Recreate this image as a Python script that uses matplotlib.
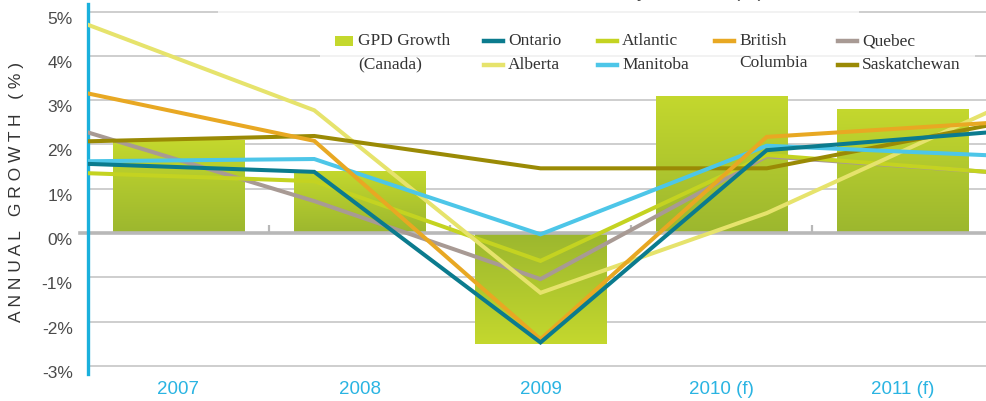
import numpy as np
import matplotlib
matplotlib.use('Agg')
import matplotlib.pyplot as plt
from matplotlib.colors import to_rgb
from matplotlib.lines import Line2D
from matplotlib.patches import Rectangle
import matplotlib.transforms as mtransforms

# data
years = ['2007', '2008', '2009', '2010 (f)', '2011 (f)']
gdp_canada = [2.1, 1.4, -2.5, 3.1, 2.8]
ontario = [1.56, 1.38, -2.47, 1.87, 2.28]
alberta = [4.7, 2.77, -1.35, 0.45, 2.78]
atlantic = [1.35, 1.17, -0.63, 1.76, 1.37]
manitoba = [1.62, 1.67, -0.03, 1.97, 1.75]
british_columbia = [3.15, 2.08, -2.4, 2.17, 2.49]
quebec = [2.27, 0.72, -1.04, 1.73, 1.37]
saskatchewan = [2.07, 2.19, 1.46, 1.46, 2.45]

# colours
TEAL = '#0B7B8E'
PALE = '#E6E36C'
LIME = '#C4D321'
ORANGE = '#E8A823'
SKY = '#4DC6E8'
TAUPE = '#A89A94'
OLIVE = '#9A8A05'
CYAN = '#1AB0DC'
BAR_DARK = '#9CB72F'
BAR_LIGHT = '#C4D82D'
GRID = '#C6C6C6'
TEXT = '#4A4A4A'

W, H = 987, 401
fig = plt.figure(figsize=(W / 100, H / 100), dpi=100)


def fx(px):
    return px / W


def fy(py):
    return 1 - py / H


# axes in pixel terms: left axis at x=88, runs past the right edge
ax_left, ax_right, ax_top, ax_bot = 88, 993, 4, 374
ax = fig.add_axes([fx(ax_left), fy(ax_bot), (ax_right - ax_left) / W,
                   (ax_bot - ax_top) / H])

x = np.arange(len(years))
bars = ax.bar(x, gdp_canada, width=0.725, color=BAR_DARK, zorder=2,
              linewidth=0)

# vertical gradient inside each bar: dark at zero, light at the far end
dark, light = np.array(to_rgb(BAR_DARK)), np.array(to_rgb(BAR_LIGHT))
t = np.linspace(0, 1, 128)[:, None]
for b, v in zip(bars, gdp_canada):
    grad = dark + (light - dark) * t
    if v < 0:
        grad = grad[::-1]
    img = grad[:, None, :]
    x0 = b.get_x()
    im = ax.imshow(img, extent=(x0, x0 + b.get_width(), min(0, v), max(0, v)),
                   origin='lower', aspect='auto', zorder=2.1,
                   interpolation='bilinear')
    im.set_clip_path(b)

# lines span the whole axis width
xl = np.linspace(-0.5, len(years) - 0.5, len(years))
series = [
    ('Quebec', quebec, TAUPE),
    ('Atlantic', atlantic, LIME),
    ('Alberta', alberta, PALE),
    ('Saskatchewan', saskatchewan, OLIVE),
    ('Manitoba', manitoba, SKY),
    ('British Columbia', british_columbia, ORANGE),
    ('Ontario', ontario, TEAL),
]
for name, vals, c in series:
    ax.plot(xl, vals, color=c, lw=2.9, zorder=3, solid_joinstyle='miter')

ax.set_xlim(-0.5, len(years) - 0.5)
y0 = (233 - ax_bot) / 44.3
y1 = (233 - ax_top) / 44.3
ax.set_ylim(y0, y1)

# gridlines
for v in [-3, -2, -1, 1, 2, 3, 4, 5]:
    ax.axhline(v, color=GRID, lw=1.2, zorder=1)
ax.axhline(0, xmin=-0.009, xmax=1, color='#B8B8B8', lw=2.6, zorder=2.5,
           clip_on=False)
ax.vlines(x[:-1] + 0.5, 0, 0.18, color='#B8B8B8', lw=1.6, zorder=2.5)

for s in ['top', 'right', 'bottom']:
    ax.spines[s].set_visible(False)
ax.spines['left'].set_color(CYAN)
ax.spines['left'].set_linewidth(2.4)

ax.set_yticks(range(-3, 6))
ax.set_yticklabels([f'{v}%' for v in range(-3, 6)], fontsize=12.5,
                   color=TEXT, family='Liberation Sans')
ax.tick_params(axis='y', length=0, pad=11)
off = mtransforms.ScaledTranslation(0, -6 / 100, fig.dpi_scale_trans)
for lab in ax.get_yticklabels():
    lab.set_transform(lab.get_transform() + off)

ax.set_xticks(x)
ax.set_xticklabels(years, fontsize=13.5, color='#2AB4E2',
                   family='Liberation Sans')
ax.tick_params(axis='x', length=0, pad=5)

fig.text(fx(17), fy(192), 'A N N U A L   G R O W T H   ( % )', rotation=90,
         ha='center', va='center', fontsize=12.5, color='#333333',
         family='Liberation Sans')

# washed-out boxes behind title and legend
fig.patches.append(Rectangle((fx(218), fy(30)), fx(859 - 218), 30 / H,
                             transform=fig.transFigure, facecolor='white',
                             alpha=0.75, edgecolor='none', zorder=1.5))
fig.patches.append(Rectangle((fx(320), fy(90)), fx(975 - 320), 70 / H,
                             transform=fig.transFigure, facecolor='white',
                             alpha=0.75, edgecolor='none', zorder=1.5))

# title, mostly cut off by the top edge as in the source
fig.text(fx(531), fy(1), 'Annual Real GDP Growth in Canada, by Province (%)',
         ha='center', va='bottom', fontsize=14, color=TEXT,
         family='Liberation Sans')

# legend, drawn by hand to keep the two-line labels
serif = dict(fontsize=12.5, color='#333333', family='Liberation Serif',
             va='center', ha='left', zorder=3)
fig.patches.append(Rectangle((fx(335), fy(46)), fx(18), 10 / H,
                             transform=fig.transFigure, facecolor=BAR_LIGHT,
                             edgecolor='none', zorder=3))
fig.text(fx(358), fy(41), 'GPD Growth', **serif)
fig.text(fx(358), fy(64), '(Canada)', **serif)

legend_items = [
    (484, 41, 'Ontario', TEAL),
    (484, 65, 'Alberta', PALE),
    (598, 41, 'Atlantic', LIME),
    (598, 65, 'Manitoba', SKY),
    (715, 41, 'British', ORANGE),
    (838, 41, 'Quebec', TAUPE),
    (838, 65, 'Saskatchewan', OLIVE),
]
for px, py, lab, c in legend_items:
    fig.lines.append(Line2D([fx(px), fx(px + 19)], [fy(py), fy(py)],
                            transform=fig.transFigure, color=c, lw=3.2,
                            zorder=3))
    fig.text(fx(px + 24), fy(py), lab, **serif)
fig.text(fx(739), fy(63), 'Columbia', **serif)

fig.savefig('out.png', dpi=100)
